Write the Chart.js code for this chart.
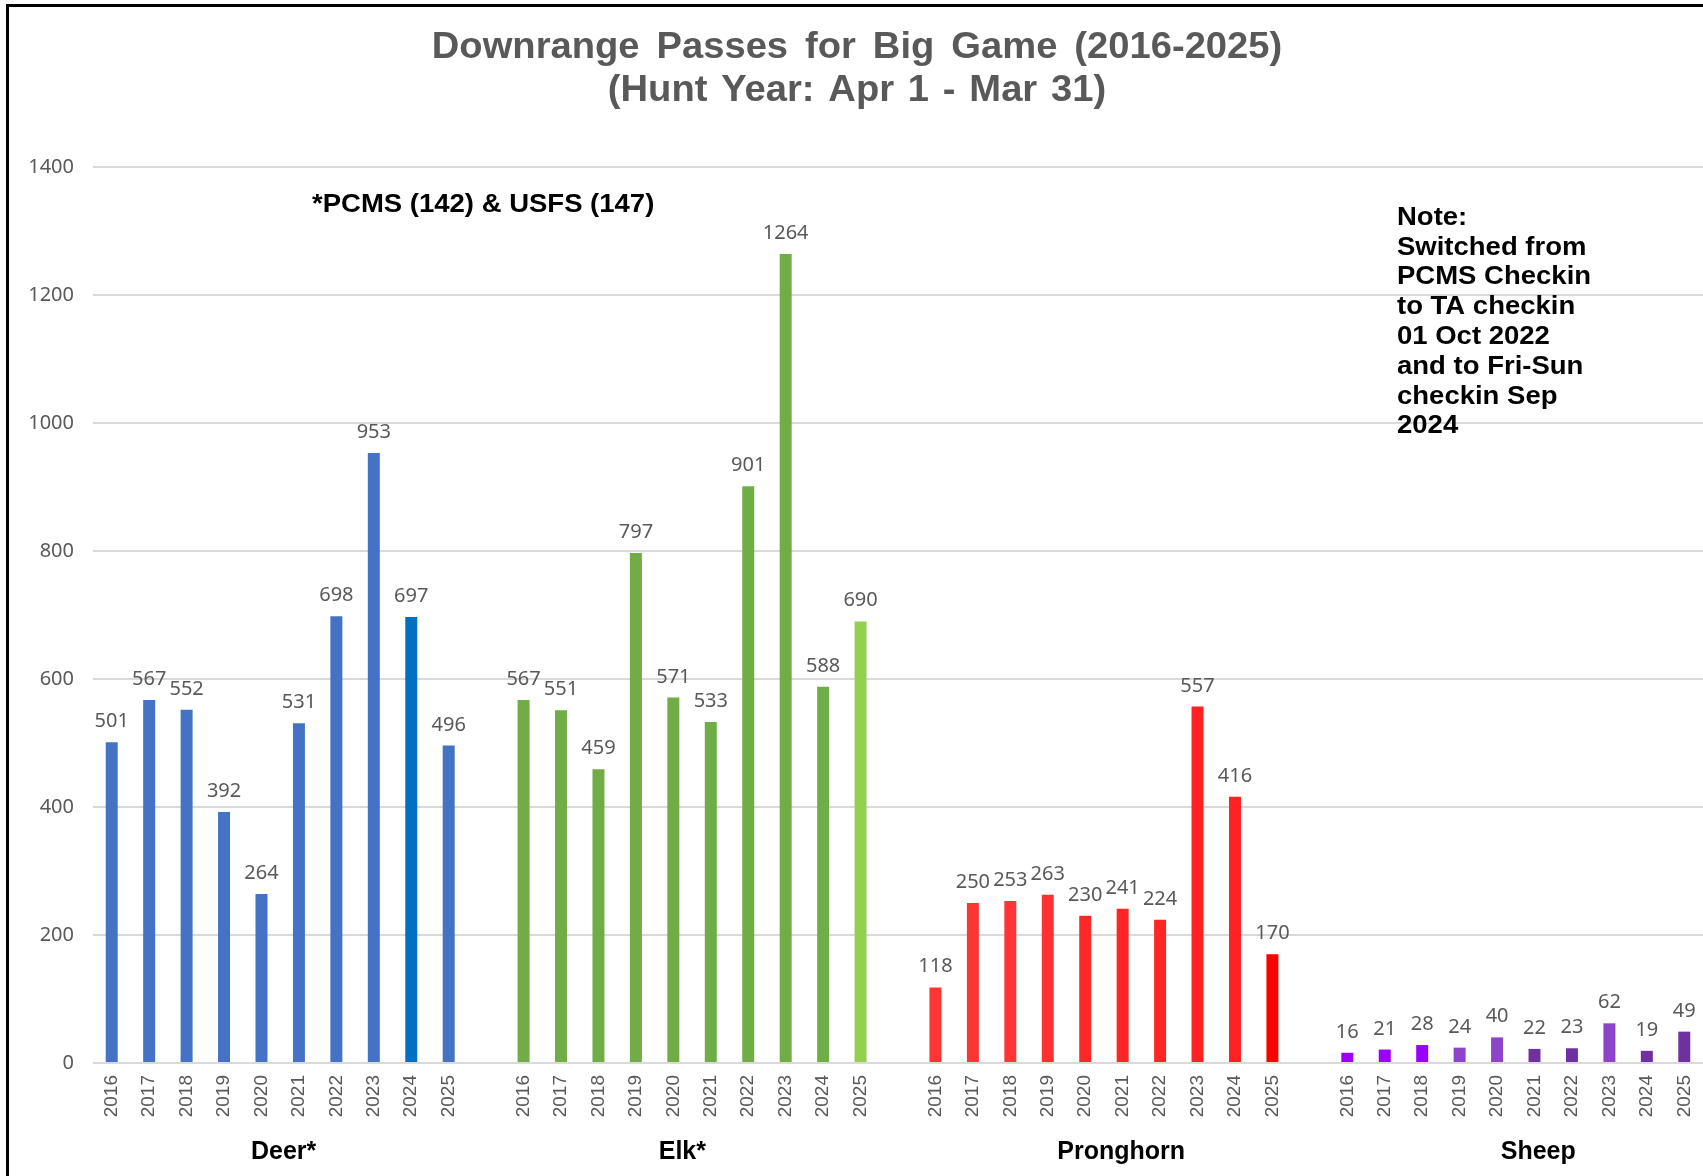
<!DOCTYPE html>
<html>
<head>
<meta charset="utf-8">
<script src="https://cdn.jsdelivr.net/npm/chart.js@4.4.1/dist/chart.umd.min.js"></script>
<style>
  html, body { margin: 0; padding: 0; background: #ffffff; }
  #wrap { width: 1703px; height: 1176px; position: relative; }
</style>
</head>
<body>
<div id="wrap"><canvas id="c" width="1703" height="1176"></canvas></div>
<script>
// ---- Data ----
const years = ['2016','2017','2018','2019','2020','2021','2022','2023','2024','2025'];
const groups = ['Deer*', 'Elk*', 'Pronghorn', 'Sheep'];
const deer = [501, 567, 552, 392, 264, 531, 698, 953, 697, 496];
const elk = [567, 551, 459, 797, 571, 533, 901, 1264, 588, 690];
const pronghorn = [118, 250, 253, 263, 230, 241, 224, 557, 416, 170];
const sheep = [16, 21, 28, 24, 40, 22, 23, 62, 19, 49];
const titleLines = ['Downrange Passes for Big Game (2016-2025)', '(Hunt Year: Apr 1 - Mar 31)'];
const footnote = '*PCMS (142) & USFS (147)';
const noteLines = ['Note:', 'Switched from', 'PCMS Checkin', 'to TA checkin', '01 Oct 2022', 'and to Fri-Sun', 'checkin Sep', '2024'];
const yTicks = [0, 200, 400, 600, 800, 1000, 1200, 1400];

// ---- Styles ----
const deerColors = ['#4472C4','#4472C4','#4472C4','#4472C4','#4472C4','#4472C4','#4472C4','#4472C4','#0070C0','#4472C4'];
const elkColors = ['#70AD47','#70AD47','#70AD47','#70AD47','#70AD47','#70AD47','#70AD47','#70AD47','#70AD47','#92D050'];
const pronghornColors = ['#FF3535','#FF3535','#FF3535','#FF3030','#FF2828','#FF2525','#FF2525','#FF2222','#FF2222','#FF0000'];
const sheepColors = ['#9900FF','#9900FF','#9900FF','#8E44C8','#8E44C8','#7030A0','#7030A0','#8E44C8','#7030A0','#7030A0'];

// ---- Build category table ----
const seriesList = [deer, elk, pronghorn, sheep];
const colorList = [deerColors, elkColors, pronghornColors, sheepColors];
const labels = [];
const values = [];
const colors = [];
const groupStart = [];
seriesList.forEach((s, gi) => {
  if (gi > 0) { labels.push(''); values.push(null); colors.push('rgba(0,0,0,0)'); }
  groupStart.push(labels.length);
  s.forEach((v, i) => { labels.push(years[i]); values.push(v); colors.push(colorList[gi][i]); });
});

const groupShift = [0.09, -0.26, 0.46, 0.6];

function stretchedText(ctx, text, x, y, sx, align, ws) {
  ctx.save();
  if ('wordSpacing' in ctx) ctx.wordSpacing = (ws || 0) + 'px';
  ctx.translate(x, y);
  ctx.scale(sx, 1);
  ctx.textAlign = align;
  ctx.fillText(text, 0, 0);
  ctx.restore();
}

const decor = {
  id: 'decor',
  beforeDraw(chart) {
    const ctx = chart.ctx;
    ctx.save();
    ctx.fillStyle = '#ffffff';
    ctx.fillRect(0, 0, chart.width, chart.height);
    ctx.restore();
  },
  afterDraw(chart) {
    const ctx = chart.ctx;
    const xs = chart.scales.x;
    ctx.save();
    // frame
    ctx.fillStyle = '#000000';
    ctx.fillRect(6, 4, 3, 1172);
    ctx.fillRect(6, 4, 1697, 3);
    // title
    ctx.fillStyle = '#595959';
    ctx.font = 'bold 36px "Liberation Sans", Arial, sans-serif';
    ctx.textBaseline = 'middle';
    stretchedText(ctx, titleLines[0], 857, 48, 1.06, 'center', 6);
    stretchedText(ctx, titleLines[1], 857, 91, 1.06, 'center', 3);
    // footnote
    ctx.fillStyle = '#000000';
    ctx.font = 'bold 25px "Liberation Sans", Arial, sans-serif';
    stretchedText(ctx, footnote, 312, 205, 1.1, 'left', 0);
    // note
    noteLines.forEach((t, i) => stretchedText(ctx, t, 1397, 218 + i * 29.8, 1.1, 'left', 0));
    // group labels
    ctx.font = 'bold 25px "Liberation Sans", Arial, sans-serif';
    ctx.textAlign = 'center';
    groups.forEach((g, gi) => {
      const x = xs.getPixelForValue(groupStart[gi] + 4.5 + groupShift[gi]);
      ctx.fillText(g, x, 1152);
    });
    ctx.restore();
  },
  afterDatasetsDraw(chart) {
    const ctx = chart.ctx;
    const meta = chart.getDatasetMeta(0);
    const ds = chart.data.datasets[0];
    ctx.save();
    ctx.fillStyle = '#595959';
    ctx.font = '20px "Noto Sans", sans-serif';
    ctx.textAlign = 'center';
    ctx.textBaseline = 'alphabetic';
    meta.data.forEach((bar, i) => {
      const v = ds.data[i];
      if (v === null || v === undefined) return;
      ctx.fillText(String(v), bar.x, bar.y - 15);
    });
    ctx.restore();
  }
};

new Chart(document.getElementById('c'), {
  type: 'bar',
  data: {
    labels: labels,
    datasets: [{
      data: values,
      backgroundColor: colors,
      borderWidth: 0,
      categoryPercentage: 1.0,
      barPercentage: 0.32
    }]
  },
  options: {
    responsive: false,
    animation: false,
    devicePixelRatio: 1,
    layout: { padding: { top: 167, left: 0, right: 0, bottom: 0 } },
    plugins: {
      legend: { display: false },
      title: { display: false },
      tooltip: { enabled: false }
    },
    scales: {
      x: {
        type: 'category',
        offset: true,
        grid: { display: false, drawTicks: false },
        border: { display: false },
        ticks: {
          autoSkip: false,
          minRotation: 90,
          maxRotation: 90,
          padding: 12,
          color: '#595959',
          font: { family: '"Liberation Sans", Arial, sans-serif', size: 19 }
        },
        afterFit(s) { s.height = 113; s.paddingLeft = 0; s.paddingRight = 0; s.paddingTop = 0; s.paddingBottom = 0; }
      },
      y: {
        min: 0,
        max: 1400,
        afterBuildTicks(s) { s.ticks = yTicks.map(v => ({ value: v })); },
        grid: { color: '#d9d9d9', lineWidth: 2, drawTicks: false },
        border: { display: false },
        ticks: {
          padding: 19,
          color: '#595959',
          font: { family: '"Noto Sans", sans-serif', size: 20 },
          callback: (v) => String(v)
        },
        afterFit(s) { s.width = 93; s.paddingTop = 0; s.paddingBottom = 0; }
      }
    }
  },
  plugins: [decor]
});
</script>
</body>
</html>
